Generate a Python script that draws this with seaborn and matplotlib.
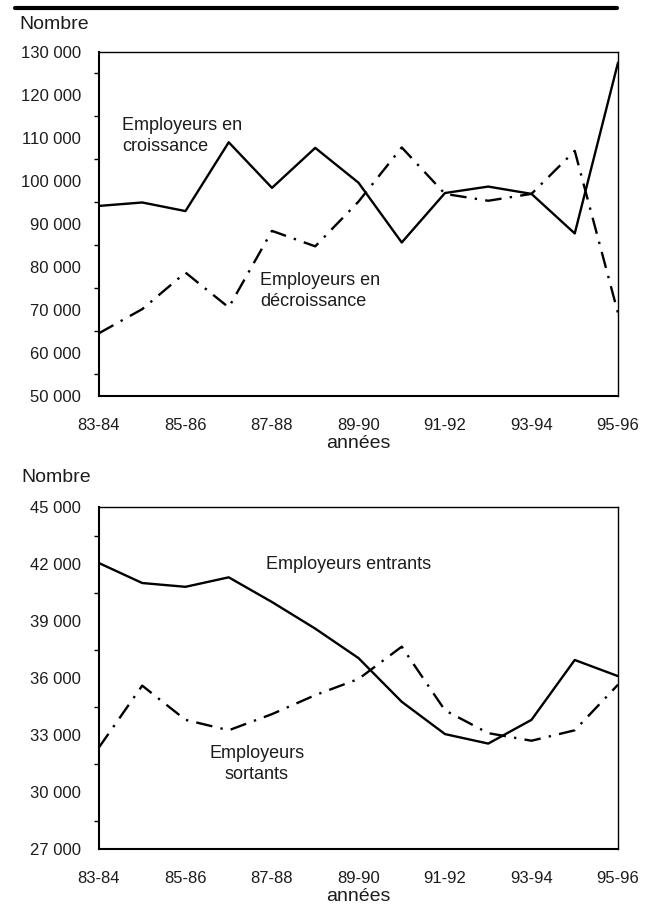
import numpy as np
import matplotlib
matplotlib.use("Agg")
import matplotlib.pyplot as plt
from matplotlib.lines import Line2D
from matplotlib.ticker import MultipleLocator, FuncFormatter
import pandas as pd
import seaborn as sns

periodes = ["83-84", "84-85", "85-86", "86-87", "87-88", "88-89", "89-90",
            "90-91", "91-92", "92-93", "93-94", "94-95", "95-96"]

croissance = [94200, 95000, 93000, 109000, 98400, 107700, 99600,
              85700, 97200, 98700, 97000, 87800, 127500]
decroissance = [64600, 70200, 78700, 70600, 88400, 84800, 95200,
                107800, 97000, 95400, 97000, 107000, 69300]

entrants = [42050, 41000, 40800, 41300, 40000, 38600, 37050,
            34750, 33050, 32550, 33800, 36950, 36100]
sortants = [32350, 35600, 33800, 33250, 34100, 35100, 35950,
            37650, 34300, 33100, 32700, 33250, 35650]

sns.set_theme(style="white")
plt.rcParams["font.family"] = ["Liberation Sans", "DejaVu Sans"]

fig = plt.figure(figsize=(6.55, 9.07), dpi=100)
ax1 = fig.add_axes([0.1511, 0.5634, 0.7924, 0.3793])
ax2 = fig.add_axes([0.1511, 0.0639, 0.7924, 0.3771])

DASHDOT = (7, 3.5, 1, 3.5)
TXT = "#1c1c1c"


def draw(ax, solid, dashed, ylo, yhi, step):
    df = pd.DataFrame({
        "periode": periodes * 2,
        "valeur": solid + dashed,
        "serie": ["a"] * len(periodes) + ["b"] * len(periodes),
    })
    sns.lineplot(data=df, x="periode", y="valeur", style="serie",
                 dashes={"a": "", "b": DASHDOT}, color="black",
                 linewidth=1.7, legend=False, ax=ax, sort=False)
    ax.set_xlim(0, len(periodes) - 1)
    ax.set_ylim(ylo, yhi)
    ax.set_xticks(range(len(periodes)))
    ax.set_xticklabels([p if i % 2 == 0 else "" for i, p in enumerate(periodes)])
    ax.yaxis.set_major_locator(MultipleLocator(step))
    ax.yaxis.set_minor_locator(MultipleLocator(step / 2))
    ax.yaxis.set_major_formatter(FuncFormatter(lambda v, p: f"{int(v):,}".replace(",", " ")))
    ax.tick_params(axis="both", which="major", direction="out", length=7.5,
                   width=1, color="black", labelsize=12, labelcolor=TXT)
    ax.tick_params(axis="y", which="major", pad=5.5)
    ax.tick_params(axis="x", which="major", pad=8)
    ax.tick_params(axis="y", which="minor", direction="out", length=3.5,
                   width=1, color="black", left=True)
    for side in ["left", "bottom"]:
        ax.spines[side].set_linewidth(1.5)
    for side in ["top", "right"]:
        ax.spines[side].set_linewidth(1.0)
    for s in ax.spines.values():
        s.set_color("black")
    ax.set_xlabel("années", fontsize=14, labelpad=1.5, color=TXT)
    ax.set_ylabel("")


draw(ax1, croissance, decroissance, 50000, 130000, 10000)
draw(ax2, entrants, sortants, 27000, 45000, 3000)

txt = dict(fontsize=13, color=TXT, va="top", linespacing=1.3)
ax1.text(0.53, 114900, "Employeurs en\ncroissance", ha="left", **txt)
ax1.text(3.72, 78800, "Employeurs en\ndécroissance", ha="left", **txt)
ax2.text(3.86, 42440, "Employeurs entrants", ha="left", **txt)
ax2.text(3.65, 32490, "Employeurs\nsortants", ha="center", multialignment="center", **txt)

fig.text(0.03, 0.9735, "Nombre", fontsize=14, va="center", color=TXT)
fig.text(0.033, 0.473, "Nombre", fontsize=14, va="center", color=TXT)
fig.add_artist(Line2D([15 / 655, 617 / 655], [1 - 7.5 / 907, 1 - 7.5 / 907],
                      color="black", linewidth=3, transform=fig.transFigure))

fig.savefig("out.png", dpi=100)
